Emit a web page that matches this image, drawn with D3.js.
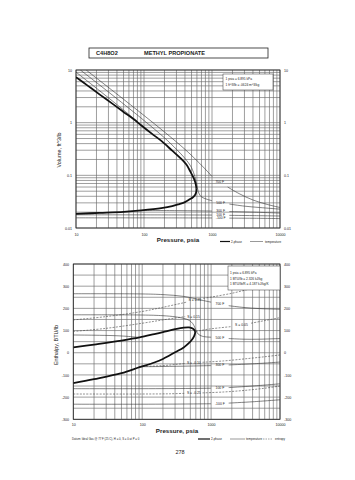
<!DOCTYPE html>
<html><head><meta charset="utf-8">
<script src="https://cdn.jsdelivr.net/npm/d3@7"></script>
<style>body{margin:0;background:#fff}svg{display:block}text{font-family:"Liberation Sans",Arial,sans-serif;fill:#222}</style>
</head><body>
<svg id="c" width="355" height="480"></svg>
<script>
// ---------- data ----------
const pressureTicks = [10, 100, 1000, 10000];
const volumeTicks = [10, 1, 0.1, 0.01];
const enthalpyTicks = [400, 300, 200, 100, 0, -100, -200, -300];
const enthalpyGrid = [400,350,300,250,200,150,100,50,0,-50,-100,-150,-200,-250,-300];

// Volume chart (P psia, V ft3/lb)
const satVapP = [10, 15, 22.4, 35, 50, 70, 91.6, 130, 180, 260, 340, 420, 480, 530, 565, 582, 590];
const satVapV = [7.3, 5.0, 3.41, 2.25, 1.6, 1.17, 0.884, 0.62, 0.45, 0.294, 0.215, 0.16, 0.118, 0.092, 0.075, 0.064, 0.056];
const satLiqP = [590, 588, 580, 560, 520, 470, 400, 330, 260, 180, 91.6, 50, 22.4, 10];
const satLiqV = [0.056, 0.05, 0.046, 0.042, 0.038, 0.035, 0.031, 0.0285, 0.026, 0.0238, 0.0216, 0.0203, 0.0194, 0.0186];

const isoNames = ["700 F", "500 F", "300 F", "100 F", "-100 F"];
const vIso700P = [14.1, 20, 40, 100, 200, 400, 600, 850, 1000, null, 1700, 2500, 4000, 6500, 10000];
const vIso700V = [10, 7.02, 3.49, 1.37, 0.665, 0.312, 0.19, 0.12, 0.095, null, 0.06, 0.045, 0.034, 0.028, 0.0245];
const vIso500P = [11.6, 20, 40, 70, 100, 200, 300, 400, 500, 560, 600, 640, 700, 850, 1000, null, 1800, 3000, 5000, 10000];
const vIso500V = [10, 5.78, 2.85, 1.6, 1.1, 0.516, 0.312, 0.21, 0.14, 0.094, 0.065, 0.046, 0.039, 0.035, 0.033, null, 0.0285, 0.026, 0.0245, 0.0228];
const vIso300P = [10, 20, 40, 60, 91.6, null, 91.6, 300, 600, 1000, null, 1800, 4000, 10000];
const vIso300V = [9.13, 4.5, 2.2, 1.43, 0.884, null, 0.0216, 0.0214, 0.0212, 0.021, null, 0.0205, 0.02, 0.0192];
const vIso100P = [10, 300, 1000, null, 1800, 4000, 10000];
const vIso100V = [0.0178, 0.0177, 0.0176, null, 0.0174, 0.0172, 0.0169];
const vIsoM100P = [10, 300, 1000, null, 1800, 4000, 10000];
const vIsoM100V = [0.0156, 0.01555, 0.0155, null, 0.0154, 0.0153, 0.0151];

// Enthalpy chart (P psia, H BTU/lb)
const hSatVapP = [10, 20, 50, 91.6, 150, 200, 300, 400, 480, 540, 575, 590];
const hSatVapH = [24, 37, 55, 69, 84, 93, 106, 113, 114, 109, 101, 94];
const hSatLiqP = [590, 582, 565, 530, 470, 400, 300, 200, 150, 91.6, 50, 20, 10];
const hSatLiqH = [94, 84, 74, 60, 42, 24, 2, -28, -44, -65, -92, -119, -137];

const hIso700P = [10, 100, 200, 400, 700, 1000, null, 1800, 3000, 5000, 10000];
const hIso700H = [266, 265, 262, 254, 238, 228, null, 212, 204, 199, 196];
const hIso500P = [10, 100, 200, 300, 400, 480, 540, 580, 610, 650, 750, 1000, null, 1800, 3000, 5000, 10000];
const hIso500H = [171, 170, 167, 162, 155, 146, 132, 114, 98, 84, 74, 70, null, 64, 61, 61, 64];
const hIso300P = [10, 20, 40, 60, 91.6, null, 91.6, 200, 500, 1000, null, 1800, 4000, 10000];
const hIso300H = [80, 79, 77, 74, 69, null, -63, -62, -60, -58, null, -55, -50, -42];
const hIso100P = [10, 100, 500, 1000, null, 1800, 4000, 10000];
const hIso100H = [-162, -162, -161, -160, null, -157, -150, -140];
const hIsoM100P = [10, 100, 500, 1000, null, 1800, 4000, 10000];
const hIsoM100H = [-232, -232, -231, -230, null, -227, -221, -212];

const entNames = ["S = 0.25", "S = 0.15", "S = 0.05", "S = -0.10", "S = -0.25"];
const hEnt1P = [10, 30, 100, 200, 440, null, 770, 2000, 5000, 10000];
const hEnt1H = [148, 163, 186, 205, 228, null, 245, 268, 298, 318];
const hEnt2P = [10, 30, 100, 200, 420];
const hEnt2H = [96, 110, 133, 148, 163];
const hEnt3P = [600, 700, 900, 1300, 2000, null, 3800, 6000, 10000];
const hEnt3H = [96, 100, 106, 112, 118, null, 133, 145, 158];
const hEnt4P = [91.6, 200, 300, 420, null, 750, 1500, 3000, 6000, 10000];
const hEnt4H = [-62, -58, -53, -48, null, -43, -37, -28, -18, -10];
const hEnt5P = [10, 100, 250, 420, null, 750, 1500, 3000, 6000, 10000];
const hEnt5H = [-186, -186, -185, -183, null, -181, -177, -170, -160, -150];

// ---------- drawing ----------
const svg = d3.select("#c");
svg.append("rect").attr("width", 355).attr("height", 480).attr("fill", "#fff");

// title box
svg.append("rect").attr("x", 89).attr("y", 48).attr("width", 179).attr("height", 10)
  .attr("fill", "none").attr("stroke", "#222").attr("stroke-width", 0.8);
svg.append("text").attr("x", 96).attr("y", 55.4).attr("font-size", 5.6).attr("font-weight", "bold").text("C4H8O2");
svg.append("text").attr("x", 144).attr("y", 55.4).attr("font-size", 5.6).attr("font-weight", "bold").text("METHYL PROPIONATE");

function toPts(P, Y) { return P.map((p, i) => ({ p: p, v: Y[i] })); }

function drawLine(g, x, y, P, Y, style) {
  const line = d3.line().defined(d => d.p != null)
    .x(d => x(d.p)).y(d => y(d.v)).curve(d3.curveCatmullRom.alpha(0.5));
  g.append("path").datum(toPts(P, Y)).attr("d", line).attr("fill", "none")
    .attr("stroke", style.color).attr("stroke-width", style.w)
    .attr("stroke-dasharray", style.dash || null);
}

function labelAt(g, x, y, P, Y, txt, logY) {
  let gi = -1;
  P.forEach((p, i) => { if (p == null) gi = i; });
  let px, py;
  if (gi > 0 && gi < P.length - 1 && P[gi - 1] !== P[gi + 1]) {
    px = Math.sqrt(P[gi - 1] * P[gi + 1]);
    py = logY ? Math.sqrt(Y[gi - 1] * Y[gi + 1]) : (Y[gi - 1] + Y[gi + 1]) / 2;
    g.append("text").attr("x", x(px)).attr("y", y(py)).attr("dy", "0.35em")
      .attr("text-anchor", "middle").attr("font-size", 3.4).text(txt);
  } else {
    const n = P.length - 1;
    g.append("text").attr("x", x(P[n]) + 2).attr("y", y(Y[n])).attr("dy", "0.35em")
      .attr("text-anchor", "start").attr("font-size", 3.4).text(txt);
  }
}

const gridStyle = { color: "#6a6a6a", w: 0.65 };
const thick = { color: "#111", w: 1.8 };
const thin = { color: "#333", w: 0.6 };
const dashed = { color: "#444", w: 0.6, dash: "2,1.3" };
const plainFmt = d => String(d);

// ======== TOP CHART ========
const xT = d3.scaleLog().domain([10, 10000]).range([76, 280]);
const yT = d3.scaleLog().domain([0.01, 10]).range([228, 70]);
const gT = svg.append("g");

gT.selectAll("line.vx").data(xT.ticks()).join("line")
  .attr("x1", d => xT(d)).attr("x2", d => xT(d)).attr("y1", 70).attr("y2", 228)
  .attr("stroke", gridStyle.color).attr("stroke-width", gridStyle.w);
gT.selectAll("line.hy").data(yT.ticks()).join("line")
  .attr("y1", d => yT(d)).attr("y2", d => yT(d)).attr("x1", 76).attr("x2", 280)
  .attr("stroke", gridStyle.color).attr("stroke-width", gridStyle.w);
gT.append("rect").attr("x", 76).attr("y", 70).attr("width", 204).attr("height", 158)
  .attr("fill", "none").attr("stroke", "#222").attr("stroke-width", 0.8);

const styleAxis = a => { a.select(".domain").remove(); a.selectAll("text").attr("font-size", 3.6).attr("font-family", "Liberation Sans").attr("fill", "#222"); };
gT.append("g").attr("transform", "translate(75,0)")
  .call(d3.axisLeft(yT).tickValues(volumeTicks).tickFormat(plainFmt).tickSize(0).tickPadding(3)).call(styleAxis);
gT.append("g").attr("transform", "translate(281,0)")
  .call(d3.axisRight(yT).tickValues(volumeTicks).tickFormat(plainFmt).tickSize(0).tickPadding(3)).call(styleAxis);
gT.append("g").attr("transform", "translate(0,232)")
  .call(d3.axisBottom(xT).tickValues(pressureTicks).tickFormat(plainFmt).tickSize(0).tickPadding(1)).call(styleAxis);

const clipT = svg.append("clipPath").attr("id", "clipT");
clipT.append("rect").attr("x", 76).attr("y", 70).attr("width", 204).attr("height", 158);
const cT = gT.append("g").attr("clip-path", "url(#clipT)");

const vIso = [[vIso700P, vIso700V], [vIso500P, vIso500V], [vIso300P, vIso300V], [vIso100P, vIso100V], [vIsoM100P, vIsoM100V]];
vIso.forEach((s, i) => { drawLine(cT, xT, yT, s[0], s[1], thin); labelAt(cT, xT, yT, s[0], s[1], isoNames[i], true); });
drawLine(cT, xT, yT, satVapP, satVapV, thick);
drawLine(cT, xT, yT, satLiqP, satLiqV, thick);

// conversion box
gT.append("rect").attr("x", 223).attr("y", 74).attr("width", 50).attr("height", 16)
  .attr("fill", "#fff").attr("stroke", "#333").attr("stroke-width", 0.5);
gT.append("text").attr("x", 225.5).attr("y", 80).attr("font-size", 3.2).text("1 psia = 6.895 kPa");
gT.append("text").attr("x", 225.5).attr("y", 86).attr("font-size", 3.2).text("1 ft^3/lb = .0624 m^3/kg");

svg.append("text").attr("transform", "translate(61,150) rotate(-90)").attr("text-anchor", "middle")
  .attr("font-size", 5.4).text("Volume, ft^3/lb");
svg.append("text").attr("x", 178).attr("y", 242).attr("text-anchor", "middle")
  .attr("font-size", 6.2).attr("font-weight", 600).text("Pressure,  psia");

// legend top
svg.append("line").attr("x1", 220).attr("x2", 230).attr("y1", 241.5).attr("y2", 241.5).attr("stroke", "#111").attr("stroke-width", 1.2);
svg.append("text").attr("x", 231).attr("y", 242.6).attr("font-size", 3).text("2-phase");
svg.append("line").attr("x1", 250).attr("x2", 263).attr("y1", 241.5).attr("y2", 241.5).attr("stroke", "#333").attr("stroke-width", 0.5);
svg.append("text").attr("x", 265).attr("y", 242.6).attr("font-size", 3).text("temperature");

// ======== BOTTOM CHART ========
const xB = d3.scaleLog().domain([10, 10000]).range([73.3, 280]);
const yB = d3.scaleLinear().domain([-300, 400]).range([419.3, 264]);
const gB = svg.append("g");

gB.selectAll("line.vx").data(xB.ticks()).join("line")
  .attr("x1", d => xB(d)).attr("x2", d => xB(d)).attr("y1", 264).attr("y2", 419.3)
  .attr("stroke", gridStyle.color).attr("stroke-width", gridStyle.w);
gB.selectAll("line.hy").data(enthalpyGrid).join("line")
  .attr("y1", d => yB(d)).attr("y2", d => yB(d)).attr("x1", 73.3).attr("x2", 280)
  .attr("stroke", gridStyle.color).attr("stroke-width", gridStyle.w);
gB.append("rect").attr("x", 73.3).attr("y", 264).attr("width", 206.7).attr("height", 155.3)
  .attr("fill", "none").attr("stroke", "#222").attr("stroke-width", 0.8);

gB.append("g").attr("transform", "translate(72,0)")
  .call(d3.axisLeft(yB).tickValues(enthalpyTicks).tickFormat(plainFmt).tickSize(0).tickPadding(3)).call(styleAxis);
gB.append("g").attr("transform", "translate(281,0)")
  .call(d3.axisRight(yB).tickValues(enthalpyTicks).tickFormat(plainFmt).tickSize(0).tickPadding(3)).call(styleAxis);
gB.append("g").attr("transform", "translate(0,422.5)")
  .call(d3.axisBottom(xB).tickValues(pressureTicks).tickFormat(plainFmt).tickSize(0).tickPadding(1)).call(styleAxis);

const clipB = svg.append("clipPath").attr("id", "clipB");
clipB.append("rect").attr("x", 73.3).attr("y", 264).attr("width", 206.7).attr("height", 155.3);
const cB = gB.append("g").attr("clip-path", "url(#clipB)");

const hIso = [[hIso700P, hIso700H], [hIso500P, hIso500H], [hIso300P, hIso300H], [hIso100P, hIso100H], [hIsoM100P, hIsoM100H]];
hIso.forEach((s, i) => { drawLine(cB, xB, yB, s[0], s[1], thin); labelAt(cB, xB, yB, s[0], s[1], isoNames[i], false); });
const hEnt = [[hEnt1P, hEnt1H], [hEnt2P, hEnt2H], [hEnt3P, hEnt3H], [hEnt4P, hEnt4H], [hEnt5P, hEnt5H]];
hEnt.forEach((s, i) => { drawLine(cB, xB, yB, s[0], s[1], dashed); labelAt(cB, xB, yB, s[0], s[1], entNames[i], false); });
drawLine(cB, xB, yB, hSatVapP, hSatVapH, thick);
drawLine(cB, xB, yB, hSatLiqP, hSatLiqH, thick);

gB.append("rect").attr("x", 228).attr("y", 266).attr("width", 52).attr("height", 24)
  .attr("fill", "#fff").attr("stroke", "#333").attr("stroke-width", 0.5);
gB.append("text").attr("x", 230).attr("y", 274).attr("font-size", 3.2).text("1 psia = 6.895 kPa");
gB.append("text").attr("x", 230).attr("y", 279.5).attr("font-size", 3.2).text("1 BTU/lb = 2.326 kJ/kg");
gB.append("text").attr("x", 230).attr("y", 285).attr("font-size", 3.2).text("1 BTU/lb/R = 4.187 kJ/kg/K");

svg.append("text").attr("transform", "translate(58,345) rotate(-90)").attr("text-anchor", "middle")
  .attr("font-size", 5.4).text("Enthalpy, BTU/lb");
svg.append("text").attr("x", 177).attr("y", 432.5).attr("text-anchor", "middle")
  .attr("font-size", 6.2).attr("font-weight", 600).text("Pressure,  psia");

// footer legend
svg.append("text").attr("x", 72).attr("y", 440).attr("font-size", 2.8)
  .text("Datum: Ideal Gas @ 77 F (25 C), H = 0, S = 0 at P = 0");
svg.append("line").attr("x1", 198).attr("x2", 210).attr("y1", 439).attr("y2", 439).attr("stroke", "#111").attr("stroke-width", 1.2);
svg.append("text").attr("x", 211).attr("y", 440).attr("font-size", 3).text("2-phase");
svg.append("line").attr("x1", 230).attr("x2", 245).attr("y1", 439).attr("y2", 439).attr("stroke", "#333").attr("stroke-width", 0.5);
svg.append("text").attr("x", 246).attr("y", 440).attr("font-size", 3).text("temperature");
svg.append("line").attr("x1", 263).attr("x2", 273).attr("y1", 439).attr("y2", 439).attr("stroke", "#444").attr("stroke-width", 0.5).attr("stroke-dasharray", "1.5,1");
svg.append("text").attr("x", 275).attr("y", 440).attr("font-size", 3).text("entropy");

svg.append("text").attr("x", 180).attr("y", 454).attr("text-anchor", "middle").attr("font-size", 5.5).text("278");
</script>
</body></html>
